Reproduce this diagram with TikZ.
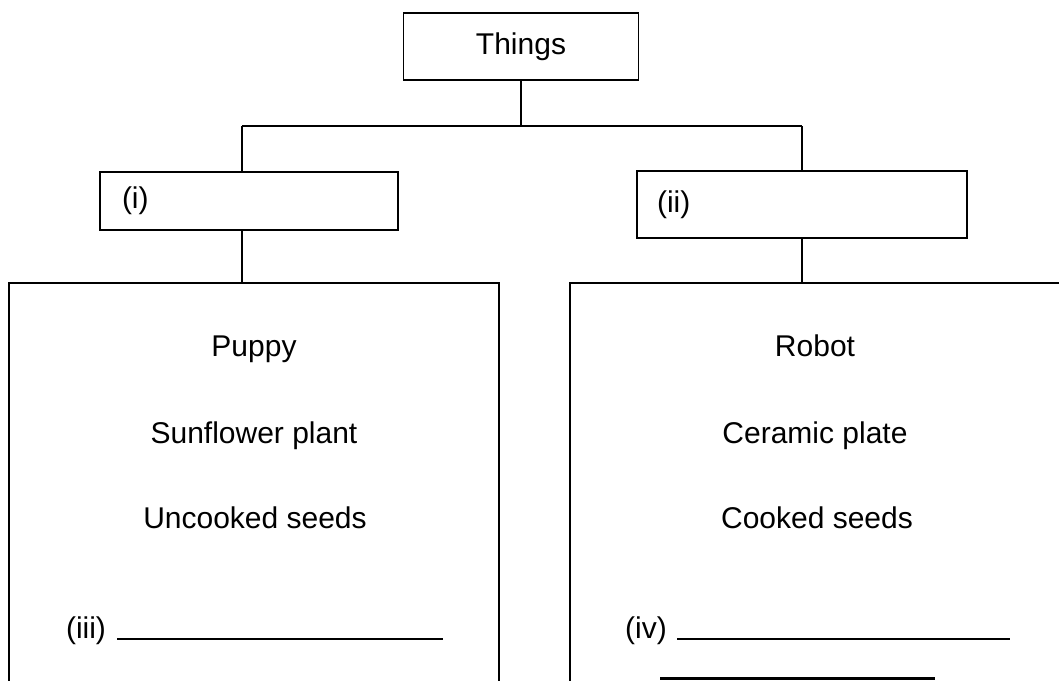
\documentclass[tikz,border=0pt]{standalone}
\usepackage{fontspec}
\setmainfont{Liberation Sans}

\begin{document}
\begin{tikzpicture}[x = 0.5pt, y = -0.5pt, font = \fontsize{15}{18}\selectfont,
	box/.style = {rectangle, draw, line width = 0.9pt, inner sep = 0pt},
	member/.style = {anchor = base},
	blank/.style = {line width = 0.9pt}]

	\useasboundingbox (0, 0) rectangle (1059, 680);
	\clip (0, 0) rectangle (1059, 680);

	% Heading and the two groups

	\node[box, minimum width = 117.5pt, minimum height = 33.5pt] (things) at (521, 46.5) {Things};
	\node[box, minimum width = 149pt, minimum height = 29pt, text width = 127pt, inner xsep = 11pt, align = left] (cati) at (249, 201) {(i)};
	\node[box, minimum width = 165pt, minimum height = 33.5pt, text width = 145pt, inner xsep = 10pt, align = left] (catii) at (802, 204.5) {(ii)};

	% Big boxes, cut off at the bottom

	\node[box, minimum width = 245pt, minimum height = 230pt] (living) at (254, 513) {};
	\node[box, minimum width = 246pt, minimum height = 230pt] (nonliving) at (816, 513) {};

	% Members of each group

	\node[member] (puppy) at (254, 356) {Puppy};
	\node[member] (sunflower) at (254, 443) {Sunflower plant};
	\node[member] (uncooked) at (255, 528) {Uncooked seeds};

	\node[member] (robot) at (815, 356) {Robot};
	\node[member] (ceramic) at (815, 443) {Ceramic plate};
	\node[member] (cooked) at (817, 528) {Cooked seeds};

	% Lines to fill in

	\node[member] (iii) at (86, 638) {(iii)};
	\node[member] (iv) at (646, 638) {(iv)};
	\coordinate (iiistart) at (117, 639);
	\coordinate (iiiend) at (443, 639);
	\coordinate (ivstart) at (677, 639);
	\coordinate (ivend) at (1010, 639);
	\coordinate (nextstart) at (660, 678);
	\coordinate (nextend) at (935, 678);
	\draw[blank] (iiistart) -- (iiiend);
	\draw[blank] (ivstart) -- (ivend);
	\draw[line width = 1.5pt] (nextstart) -- (nextend);

	% Tree connectors

	\coordinate (forkl) at (242, 126);
	\coordinate (forkr) at (802, 126);

	\begin{scope}[line width = 0.9pt]

		\draw (things.south) -- (things.south |- forkl);
		\draw (forkl) -- (forkr);
		\draw (forkl) -- (forkl |- cati.north);
		\draw (forkr) -- (forkr |- catii.north);
		\draw (forkl |- cati.south) -- (forkl |- living.north);
		\draw (forkr |- catii.south) -- (forkr |- nonliving.north);

	\end{scope}

\end{tikzpicture}
\end{document}
